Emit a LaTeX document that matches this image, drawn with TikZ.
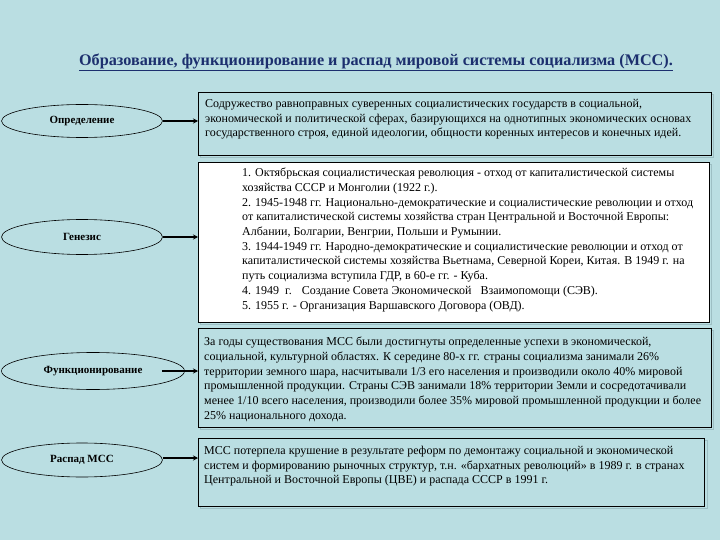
\documentclass[tikz,border=0pt]{standalone}
\usepackage{fontspec}
\setmainfont{Liberation Serif}
\usetikzlibrary{arrows.meta,shapes.geometric}
\definecolor{bg}{HTML}{BADEE2}
\definecolor{titleblue}{HTML}{1C2F6E}
\definecolor{shadowc}{HTML}{9DBFC4}
\tikzset{
  box/.style={draw=black, line width=0.9pt, fill=bg, rectangle, inner sep=0pt},
  wbox/.style={box, fill=white},
  txt/.style={anchor=north west, align=left, inner sep=0pt, font=\fontsize{12}{14.7}\selectfont},
  oval/.style={ellipse, draw=black, line width=0.6pt, fill=bg, inner sep=0pt, font=\fontsize{11}{12}\selectfont\bfseries},
  arr/.style={line width=1.6pt, -{Stealth[length=5pt,width=5pt]}},
}
\begin{document}
\begin{tikzpicture}[x=1pt,y=-1pt]
\useasboundingbox (0,0) rectangle (720,540);
\fill[bg] (0,0) rectangle (720,540);

\node[font=\fontsize{16.2}{18}\selectfont\bfseries, text=titleblue] (title) at (376,62)
  {\underline{Образование, функционирование и распад мировой системы социализма (МСС).}};

% shadows
\draw[shadowc, line width=0.9pt] (200,94) rectangle (713,157);
\draw[shadowc, line width=0.9pt] (200,164) rectangle (711,324);
\draw[shadowc, line width=0.9pt] (200,330) rectangle (713,429);
\draw[shadowc, line width=0.9pt] (200,440) rectangle (707,508);

% boxes
\node[box, anchor=north west, minimum width=513, minimum height=63] (b1) at (198,92) {};
\node[wbox, anchor=north west, minimum width=511, minimum height=160] (b2) at (198,162) {};
\node[box, anchor=north west, minimum width=513, minimum height=99] (b3) at (198,328) {};
\node[box, anchor=north west, minimum width=506, minimum height=68] (b4) at (198,438) {};

% texts
\node[txt] (t1) at (205,99) {Содружество равноправных суверенных социалистических государств в социальной,\\
экономической и политической сферах, базирующихся на однотипных экономических основах\\
государственного строя, единой идеологии, общности коренных интересов и конечных идей.};

\node[txt] (t2) at (242,168) {1. Октябрьская социалистическая революция - отход от капиталистической системы\\
хозяйства СССР и Монголии (1922 г.).\\
2. 1945-1948 гг. Национально-демократические и социалистические революции и отход\\
от капиталистической системы хозяйства стран Центральной и Восточной Европы:\\
Албании, Болгарии, Венгрии, Польши и Румынии.\\
3. 1944-1949 гг. Народно-демократические и социалистические революции и отход от\\
капиталистической системы хозяйства Вьетнама, Северной Кореи, Китая. В 1949 г. на\\
путь социализма вступила ГДР, в 60-е гг. - Куба.\\
4. 1949~~г.~~ Создание Совета Экономической~~ Взаимопомощи (СЭВ).\\
5. 1955 г. - Организация Варшавского Договора (ОВД).};

\node[txt] (t3) at (204,337) {За годы существования МСС были достигнуты определенные успехи в экономической,\\
социальной, культурной областях. К середине 80-х гг. страны социализма занимали 26\%\\
территории земного шара, насчитывали 1/3 его населения и производили около 40\% мировой\\
промышленной продукции. Страны СЭВ занимали 18\% территории Земли и сосредотачивали\\
менее 1/10 всего населения, производили более 35\% мировой промышленной продукции и более\\
25\% национального дохода.};

\node[txt] (t4) at (204,446) {МСС потерпела крушение в результате реформ по демонтажу социальной и экономической\\
систем и формированию рыночных структур, т.н. «бархатных революций» в 1989 г. в странах\\
Центральной и Восточной Европы (ЦВЕ) и распада СССР в 1991 г.};

% ovals
\node[oval, minimum width=161, minimum height=33] (e1) at (82,121) {Определение};
\node[oval, minimum width=161, minimum height=35] (e2) at (82,237) {Генезис};
\node[oval, minimum width=183, minimum height=37] (e3) at (93,371) {Функционирование};
\node[oval, minimum width=161, minimum height=34] (e4) at (82,460) {Распад МСС};

% arrows
\draw[arr] (e1.east) -- (e1.east -| b1.west);
\draw[arr] (e2.east) -- (e2.east -| b2.west);
\draw[arr] ([xshift=-23pt]e3.east) -- (e3.east -| b3.west);
\draw[arr] ([yshift=2pt]e4.east) -- ([yshift=2pt]e4.east -| b4.west);
\end{tikzpicture}
\end{document}
